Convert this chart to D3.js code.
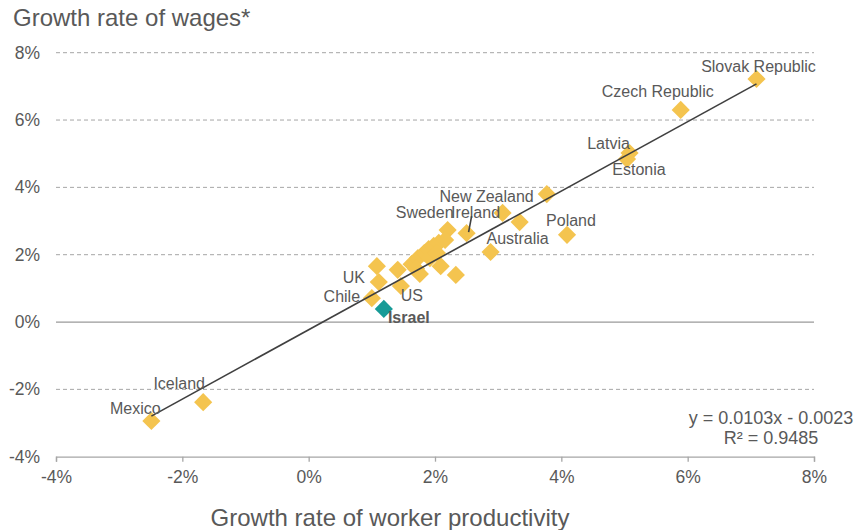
<!DOCTYPE html>
<html>
<head>
<meta charset="utf-8">
<script src="https://cdn.jsdelivr.net/npm/d3@7"></script>
<style>
  html, body { margin: 0; padding: 0; background: #fff; }
  svg { display: block; font-family: "Liberation Sans", Arial, sans-serif; }
</style>
</head>
<body>
<svg id="chart" width="860" height="530"></svg>
<script>
// Average annual growth, in percent. Empty names are members shown without a label.
const countries = [
  "Slovak Republic", "Czech Republic", "Latvia", "Estonia", "", "New Zealand", "",
  "Poland", "Australia", "Sweden", "Ireland", "", "", "UK", "", "", "US", "Chile",
  "Israel", "", "", "", "", "", "", "", "", "", "", "", "Iceland", "Mexico"
];
const productivity = [
  7.09, 5.89, 5.08, 5.04, 3.77, 3.07, 3.34,
  4.09, 2.88, 2.20, 2.50, 2.33, 2.09, 1.08, 1.11, 1.41, 1.46, 1.00,
  1.19, 1.76, 1.63, 1.73, 1.83, 1.90, 1.98, 2.06, 2.16, 1.92, 2.03, 1.70, -1.67, -2.49
];
const wages = [
  7.22, 6.30, 5.02, 4.84, 3.80, 3.24, 2.97,
  2.59, 2.08, 2.73, 2.64, 1.40, 1.66, 1.66, 1.19, 1.55, 1.07, 0.71,
  0.39, 1.43, 1.72, 1.90, 2.05, 2.17, 2.26, 2.35, 2.44, 1.90, 2.05, 1.58, -2.38, -2.94
];
const highlighted = "Israel";

const xTicks = [-4, -2, 0, 2, 4, 6, 8];
const yTicks = [-4, -2, 0, 2, 4, 6, 8];

// Linear trend: x in percent, y as a fraction -> y = 0.0103x - 0.0023
const trendSlope = 0.0103;
const trendIntercept = -0.0023;
const rSquared = 0.9485;

const yTitle = "Growth rate of wages*";
const xTitle = "Growth rate of worker productivity";

// Label placement relative to each point (pixels, text centre)
const labelOffsets = {
  "Slovak Republic": [2, -13],
  "Czech Republic": [-23, -19],
  "Latvia": [-21, -10],
  "Estonia": [12, 10],
  "New Zealand": [-16, -17],
  "Sweden": [-23, -18],
  "Ireland": [9, -21],
  "Poland": [4, -14],
  "Australia": [27, -14],
  "UK": [-23, 11],
  "Chile": [-30, -2],
  "US": [11, 9],
  "Israel": [25, 8],
  "Iceland": [-24, -19],
  "Mexico": [-16, -13]
};

const svg = d3.select("#chart");
const plot = { left: 56, right: 814, top: 52.7, bottom: 456.7 };

const x = d3.scaleLinear().domain([-4, 8]).range([plot.left, plot.right]);
const y = d3.scaleLinear().domain([-4, 8]).range([plot.bottom, plot.top]);

const gridColor = "#a6a6a6";
const textColor = "#595959";

// Horizontal gridlines: dashed, with a solid zero line
svg.append("g")
  .selectAll("line")
  .data(yTicks.filter(d => d !== -4))
  .join("line")
  .attr("x1", plot.left)
  .attr("x2", plot.right)
  .attr("y1", d => y(d))
  .attr("y2", d => y(d))
  .attr("stroke", d => d === 0 ? "#9a9a9a" : gridColor)
  .attr("stroke-width", d => d === 0 ? 1.3 : 1)
  .attr("stroke-dasharray", d => d === 0 ? null : "4,3");

// Bottom axis
const xAxis = svg.append("g")
  .attr("transform", `translate(0,${plot.bottom})`)
  .call(d3.axisBottom(x).tickValues(xTicks).tickFormat(d => d + "%").tickSize(5).tickPadding(9));
xAxis.select(".domain").attr("stroke", gridColor).attr("stroke-width", 1.3);
xAxis.selectAll(".tick line").attr("stroke", gridColor).attr("stroke-width", 1.3);
xAxis.selectAll(".tick text")
  .attr("fill", textColor)
  .attr("font-size", 17.5)
  .attr("font-family", "Liberation Sans, Arial, sans-serif");

// Left tick labels (no axis line)
const yAxis = svg.append("g")
  .attr("transform", `translate(${plot.left},0)`)
  .call(d3.axisLeft(y).tickValues(yTicks).tickFormat(d => d + "%").tickSize(0).tickPadding(16));
yAxis.select(".domain").remove();
yAxis.selectAll(".tick text")
  .attr("fill", textColor)
  .attr("font-size", 17.5)
  .attr("font-family", "Liberation Sans, Arial, sans-serif");

// Points
const points = countries.map((c, i) => ({ name: c, px: productivity[i], wy: wages[i] }));
const diamond = d3.symbol().type(d3.symbolSquare).size(165);

svg.append("g")
  .selectAll("path")
  .data(points.filter(p => p.name !== highlighted))
  .join("path")
  .attr("d", diamond)
  .attr("transform", d => `translate(${x(d.px)},${y(d.wy)}) rotate(45)`)
  .attr("fill", "#f4c44f");

svg.append("g")
  .selectAll("path")
  .data(points.filter(p => p.name === highlighted))
  .join("path")
  .attr("d", diamond)
  .attr("transform", d => `translate(${x(d.px)},${y(d.wy)}) rotate(45)`)
  .attr("fill", "#179b97");

// Trend line across the range of the data (converted back to percent)
const xMin = d3.min(productivity), xMax = d3.max(productivity);
const trend = v => (trendSlope * v + trendIntercept) * 100;
svg.append("line")
  .attr("x1", x(xMin)).attr("y1", y(trend(xMin)))
  .attr("x2", x(xMax)).attr("y2", y(trend(xMax)))
  .attr("stroke", "#404040")
  .attr("stroke-width", 1.6);

// Country labels
const labelled = points.filter(p => labelOffsets[p.name]);
svg.append("g")
  .selectAll("text")
  .data(labelled)
  .join("text")
  .attr("x", d => x(d.px) + labelOffsets[d.name][0])
  .attr("y", d => y(d.wy) + labelOffsets[d.name][1])
  .attr("dy", "0.35em")
  .attr("text-anchor", "middle")
  .attr("font-size", 16)
  .attr("font-weight", d => d.name === highlighted ? "bold" : null)
  .attr("fill", textColor)
  .text(d => d.name);

// Leader line for Ireland
const ireland = points.find(p => p.name === "Ireland");
svg.append("line")
  .attr("x1", x(ireland.px) + 5).attr("y1", y(ireland.wy) - 17)
  .attr("x2", x(ireland.px) + 2).attr("y2", y(ireland.wy) - 1)
  .attr("stroke", "#404040")
  .attr("stroke-width", 1.6);

// Trend equation
const eqX = 771;
svg.append("text")
  .attr("x", eqX).attr("y", 424)
  .attr("text-anchor", "middle")
  .attr("font-size", 18)
  .attr("fill", textColor)
  .text(`y = ${trendSlope.toFixed(4)}x - ${Math.abs(trendIntercept).toFixed(4)}`);
svg.append("text")
  .attr("x", eqX).attr("y", 444)
  .attr("text-anchor", "middle")
  .attr("font-size", 18)
  .attr("fill", textColor)
  .text(`R² = ${rSquared}`);

// Axis titles
svg.append("text")
  .attr("x", 13).attr("y", 26)
  .attr("font-size", 24)
  .attr("fill", textColor)
  .text(yTitle);
svg.append("text")
  .attr("x", 390).attr("y", 526)
  .attr("text-anchor", "middle")
  .attr("font-size", 24)
  .attr("fill", textColor)
  .text(xTitle);
</script>
</body>
</html>
